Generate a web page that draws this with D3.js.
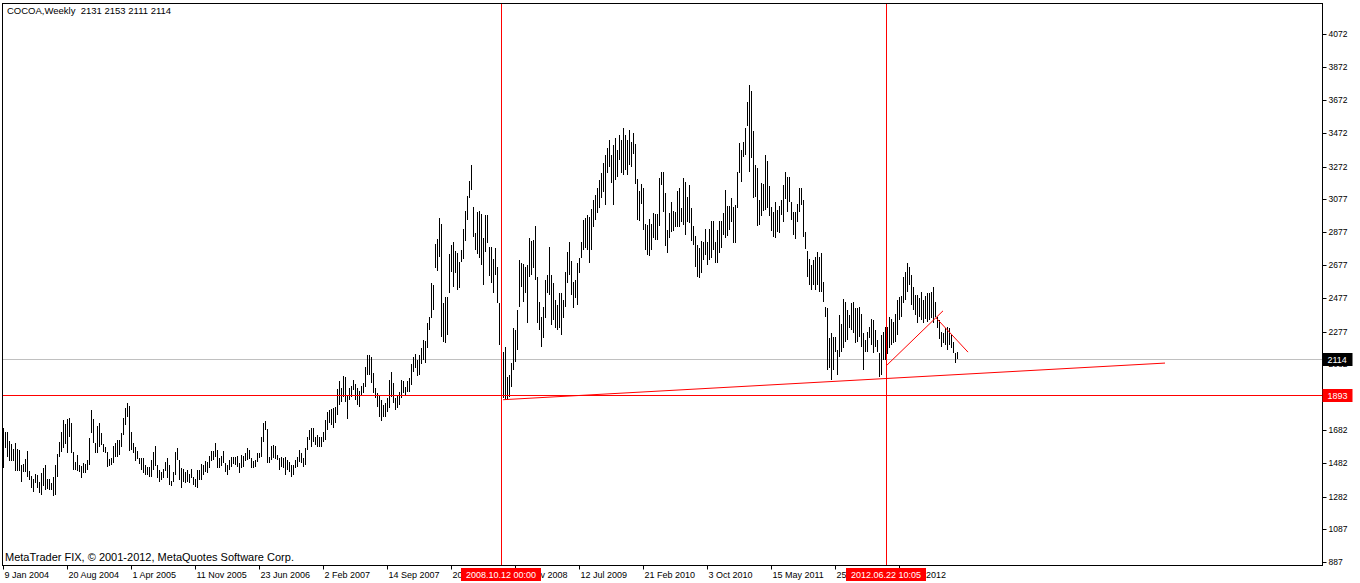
<!DOCTYPE html>
<html><head><meta charset="utf-8">
<script src="https://cdn.jsdelivr.net/npm/d3@7"></script>
<style>
html,body{margin:0;padding:0;background:#fff;}
svg{display:block;}
text{font-family:"Liberation Sans",Arial,sans-serif;white-space:pre;}
</style></head><body>
<svg id="c" width="1360" height="583"></svg>
<script>
const title = "COCOA,Weekly  2131 2153 2111 2114";
const copyright = "MetaTrader FIX, \u00A9 2001-2012, MetaQuotes Software Corp.";
const highs = [
1695,1671,1671,1617,1599,1569,1605,1569,1563,1473,
1479,1509,1557,1437,1407,1389,1419,1413,1371,1425,
1455,1473,1389,1389,1365,1401,1473,1539,1611,1671,
1745,1721,1751,1757,1727,1551,1491,1533,1473,1467,
1485,1479,1503,1635,1805,1751,1605,1707,1727,1665,
1599,1581,1551,1509,1515,1587,1605,1623,1623,1665,
1757,1817,1847,1829,1671,1605,1581,1557,1515,1515,
1515,1473,1461,1461,1503,1551,1587,1473,1443,1431,
1449,1491,1515,1473,1375,1431,1551,1575,1503,1455,
1449,1431,1443,1419,1449,1401,1389,1443,1443,1479,
1473,1497,1491,1527,1557,1557,1605,1563,1515,1527,
1557,1485,1473,1503,1521,1521,1521,1527,1485,1533,
1527,1545,1575,1563,1515,1497,1503,1545,1545,1641,
1727,1739,1689,1521,1587,1593,1587,1533,1515,1521,
1515,1521,1503,1491,1473,1473,1503,1521,1563,1545,
1515,1575,1641,1683,1695,1695,1641,1653,1641,1641,
1671,1745,1793,1805,1811,1817,1823,1931,1979,1937,
2009,2003,1895,1937,1949,1985,1961,1937,1919,1949,
1967,2063,2135,2135,2123,2027,1937,1907,1889,1865,
1835,1847,1877,1985,2033,1967,1877,1895,1913,1985,
1979,1943,1979,1997,2081,2123,2141,2105,2135,2177,
2225,2219,2330,2366,2570,2558,2804,2834,2963,2927,
2450,2486,2486,2744,2798,2816,2762,2750,2696,2768,
2894,3005,3095,3185,3281,3029,2870,2999,3005,2987,
2840,2981,2981,2786,2786,2714,2780,2666,2450,2183,
2153,2183,2003,2015,2087,2297,2285,2408,2708,2690,
2684,2666,2678,2840,2822,2828,2912,2606,2456,2366,
2426,2588,2618,2786,2618,2570,2468,2438,2510,2510,
2468,2636,2756,2816,2702,2576,2588,2690,2720,2816,
2951,2963,2981,2969,3017,3071,3101,3143,3191,3233,
3293,3341,3383,3431,3341,3401,3443,3371,3461,3431,
3503,3461,3431,3491,3419,3473,3407,3197,3125,3167,
3143,2927,2918,2957,2927,2993,2987,2987,3203,3239,
3239,3113,2888,2993,3059,3005,2999,3125,3143,3023,
3203,3179,3089,3161,3023,2912,2852,2798,2780,2822,
2816,2894,2816,2894,2945,2945,2816,2888,2945,2945,
2993,3131,3035,3035,3083,3029,3041,3239,3413,3371,
3419,3503,3659,3767,3731,3485,3281,3263,3071,3173,
3167,3341,3305,3155,3029,2999,3059,3011,3035,3071,
3161,3239,3209,3209,3059,2999,2999,3047,3143,3143,
3071,2876,2762,2714,2678,2708,2726,2756,2726,2750,
2576,2426,2420,2237,2267,2243,2243,2165,2378,2324,
2474,2456,2408,2378,2450,2456,2420,2420,2426,2384,
2267,2225,2273,2303,2354,2348,2285,2225,2147,2255,
2273,2303,2303,2366,2354,2336,2384,2468,2486,2492,
2606,2636,2690,2666,2618,2546,2498,2498,2480,2516,
2468,2492,2510,2510,2516,2546,2456,2366,2348,2273,
2267,2297,2303,2297,2255,2213,2147,2153
];
const lows = [
1455,1575,1521,1497,1497,1497,1437,1437,1437,1371,
1431,1431,1401,1383,1335,1311,1365,1335,1305,1293,
1347,1323,1329,1323,1323,1287,1293,1401,1521,1551,
1575,1599,1545,1641,1545,1443,1443,1437,1431,1395,
1425,1425,1443,1473,1665,1605,1545,1545,1581,1593,
1551,1545,1461,1467,1473,1485,1521,1521,1533,1581,
1653,1713,1763,1557,1563,1545,1497,1509,1479,1443,
1425,1413,1413,1401,1401,1443,1467,1395,1371,1383,
1395,1437,1395,1353,1345,1371,1413,1503,1383,1335,
1371,1365,1371,1365,1395,1353,1341,1335,1383,1383,
1413,1431,1425,1455,1497,1503,1521,1455,1455,1467,
1485,1431,1413,1443,1461,1479,1473,1461,1425,1455,
1461,1497,1503,1509,1455,1455,1461,1491,1515,1521,
1611,1683,1485,1485,1503,1515,1509,1503,1443,1461,
1455,1413,1443,1431,1401,1413,1455,1461,1491,1485,
1461,1473,1563,1623,1581,1611,1593,1581,1581,1581,
1611,1623,1683,1727,1715,1697,1727,1775,1835,1853,
1883,1853,1751,1865,1883,1925,1865,1835,1823,1895,
1907,1943,2015,2015,1967,1907,1877,1823,1763,1739,
1763,1763,1793,1817,1883,1847,1805,1817,1835,1877,
1907,1895,1913,1913,1955,2033,2057,2009,2015,2081,
2105,2087,2177,2285,2360,2408,2660,2642,2726,2243,
2213,2207,2255,2510,2636,2546,2630,2528,2540,2696,
2714,2822,2951,3083,3131,2846,2768,2744,2720,2678,
2558,2756,2810,2612,2570,2510,2618,2450,2195,1877,
1877,1871,1871,1883,1943,2045,2093,2165,2426,2546,
2456,2510,2330,2606,2618,2660,2588,2330,2285,2183,
2237,2360,2510,2498,2315,2348,2300,2285,2300,2255,
2360,2426,2570,2618,2498,2420,2480,2438,2630,2720,
2768,2780,2768,2690,2768,2906,2951,2993,3023,3083,
3119,3041,3233,3269,3173,3041,3191,3209,3311,3233,
3221,3251,3221,3281,3269,3347,3167,2951,2945,3047,
2888,2768,2738,2732,2768,2840,2828,2828,2912,3161,
2999,2792,2750,2840,2876,2882,2906,2906,2906,2939,
2921,2858,2939,2933,2822,2798,2666,2606,2600,2630,
2708,2738,2678,2708,2720,2768,2690,2690,2750,2780,
2858,2840,2852,2888,2939,2810,2810,3023,3233,3179,
3329,3341,3515,3239,3323,3083,3089,2912,2918,2975,
3005,3011,3023,2975,2882,2846,2840,2876,2870,2981,
2939,3077,2999,3059,2951,2858,2834,2939,2999,3041,
2846,2774,2606,2558,2528,2558,2528,2558,2516,2516,
2456,2366,2045,2057,1985,2045,2153,2015,2123,2153,
2177,2213,2225,2300,2285,2267,2207,2213,2243,2183,
2045,2153,2153,2237,2195,2147,2183,2153,2003,2015,
2105,2105,2141,2177,2195,2207,2213,2255,2348,2366,
2450,2468,2516,2558,2438,2408,2378,2330,2366,2348,
2330,2354,2336,2348,2360,2330,2366,2300,2234,2183,
2207,2195,2165,2195,2177,2147,2087,2111
];
const priceTicks = [4072,3872,3672,3472,3272,3077,2877,2677,2477,2277,2082,1882,1682,1482,1282,1087,887];
const dateLabels = ["9 Jan 2004","20 Aug 2004","1 Apr 2005","11 Nov 2005","23 Jun 2006","2 Feb 2007","14 Sep 2007","20 Apr 2008","30 Nov 2008","12 Jul 2009","21 Feb 2010","3 Oct 2010","15 May 2011","25 Dec 2011","5 Aug 2012"];
const dateLabelStep = 32;
const lastPrice = 2114;
const supportLevel = 1893;
const crossIdx = [249, 441.5];
const crossLabels = ["2008.10.12 00:00","2012.06.22 10:05"];
const trendLine = [[250,1866],[581,2087]];
const upLine = [[442,2075],[470,2402]];
const downLine = [[466.5,2360],[482.5,2153]];

const svg = d3.select("#c");
const L = 2.5, T = 3.5, R = 1322.5, B = 565.5;
const x = d3.scaleLinear().domain([0, highs.length - 1]).range([3, 3 + 2*(highs.length - 1)]);
const y = d3.scaleLinear().domain([887, 4072]).range([562, 34]);

// gray current price line
svg.append("line").attr("x1",L).attr("x2",R).attr("y1",Math.round(y(lastPrice))+0.5).attr("y2",Math.round(y(lastPrice))+0.5)
  .attr("stroke","#c0c0c0").attr("stroke-width",1);

// bars
svg.append("g").selectAll("rect").data(highs).join("rect")
  .attr("x",(d,i)=>x(i)).attr("width",1)
  .attr("y",d=>Math.round(y(d)))
  .attr("height",(d,i)=>Math.max(1,Math.round(y(lows[i]))-Math.round(y(d))))
  .attr("fill","#000").attr("shape-rendering","crispEdges");

// support horizontal line
svg.append("line").attr("x1",L).attr("x2",R).attr("y1",Math.round(y(supportLevel))+0.5).attr("y2",Math.round(y(supportLevel))+0.5)
  .attr("stroke","#ff0000").attr("stroke-width",1);

// vertical crosshair lines
crossIdx.forEach(ci=>{
  const xx = Math.round(x(ci))+0.5;
  svg.append("line").attr("x1",xx).attr("x2",xx).attr("y1",T).attr("y2",B)
    .attr("stroke","#ff0000").attr("stroke-width",1);
});

// trend lines
const lineGen = d3.line().x(d=>x(d[0])).y(d=>y(d[1]));
[trendLine, upLine, downLine].forEach(l=>{
  svg.append("path").attr("d",lineGen(l)).attr("fill","none").attr("stroke","#ff0000").attr("stroke-width",1);
});

// frame
svg.append("rect").attr("x",L).attr("y",T).attr("width",R-L).attr("height",B-T)
  .attr("fill","none").attr("stroke","#000").attr("stroke-width",1);

// right axis
const ra = svg.append("g");
priceTicks.forEach(p=>{
  const yy = Math.round(y(p))+0.5;
  ra.append("line").attr("x1",R).attr("x2",R+4).attr("y1",yy).attr("y2",yy).attr("stroke","#000");
  ra.append("text").attr("x",R+6).attr("y",yy).attr("dy","0.35em").attr("font-size","8.5px").attr("fill","#000").text(p);
});

// bottom axis
const ba = svg.append("g");
dateLabels.forEach((lab,k)=>{
  const xx = Math.round(x(k*dateLabelStep))+0.5;
  ba.append("line").attr("x1",xx).attr("x2",xx).attr("y1",B).attr("y2",B+4).attr("stroke","#000");
  ba.append("text").attr("x",xx+1).attr("y",578).attr("font-size","9px").attr("fill","#000").text(lab);
});

// crosshair date labels
crossIdx.forEach((ci,k)=>{
  const xx = Math.round(x(ci));
  svg.append("rect").attr("x",xx-40).attr("y",568).attr("width",80).attr("height",13).attr("fill","#ff0000");
  svg.append("text").attr("x",xx).attr("y",578).attr("text-anchor","middle").attr("font-size","9px").attr("fill","#fff").text(crossLabels[k]);
});

// price labels
[[lastPrice,"#000"],[supportLevel,"#ff0000"]].forEach(([p,c])=>{
  const yy = Math.round(y(p))+0.5;
  svg.append("rect").attr("x",R).attr("y",yy-6.5).attr("width",30).attr("height",13).attr("fill",c);
  svg.append("text").attr("x",R+5).attr("y",yy).attr("dy","0.35em").attr("font-size","9px").attr("fill","#fff").text(p);
});

// title & copyright
svg.append("text").attr("x",7).attr("y",14).attr("font-size","9.5px").attr("fill","#000").text(title);
svg.append("text").attr("x",5).attr("y",561).attr("font-size","11px").attr("fill","#000").text(copyright);
</script>
</body></html>
